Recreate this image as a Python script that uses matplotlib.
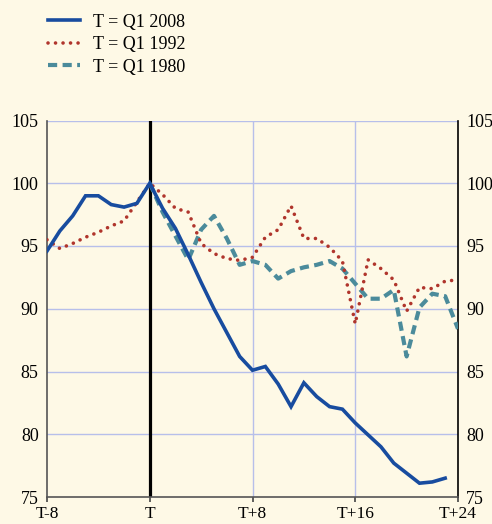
import matplotlib
matplotlib.use("Agg")
import matplotlib.pyplot as plt

# Quarters relative to the cycle peak T
quarters_2008 = list(range(-8, 24))
quarters_1992 = list(range(-8, 25))
quarters_1980 = list(range(0, 25))

# Index values (T = 100)
q1_2008 = [94.6, 96.2, 97.4, 99.0, 99.0, 98.3, 98.1, 98.4, 100.0,
           98.0, 96.4, 94.3, 92.1, 90.0, 88.1, 86.2, 85.1, 85.4, 84.0,
           82.2, 84.1, 83.0, 82.2, 82.0, 80.9, 79.95, 79.0, 77.7, 76.9,
           76.1, 76.2, 76.5]
q1_1992 = [95.5, 94.8, 95.2, 95.7, 96.1, 96.6, 97.0, 98.5, 100.0,
           99.1, 98.0, 97.7, 95.2, 94.4, 94.0, 93.85, 94.1, 95.7, 96.3,
           98.2, 95.6, 95.6, 94.9, 93.8, 88.8, 93.9, 93.2, 92.3, 89.8,
           91.7, 91.6, 92.2, 92.3]
q1_1980 = [100.0, 97.7, 95.8, 93.9, 96.3, 97.4, 95.6, 93.5, 93.8, 93.5,
           92.4, 93.0, 93.3, 93.5, 93.8, 93.2, 92.0, 90.8, 90.8, 91.5,
           86.2, 90.1, 91.2, 91.0, 88.4]

x_ticks = [-8, 0, 8, 16, 24]
x_tick_labels = ["T-8", "T", "T+8", "T+16", "T+24"]
y_ticks = [75, 80, 85, 90, 95, 100, 105]

bg = "#fef9e6"
grid_col = "#b7bfea"

plt.rcParams['font.family'] = ['Liberation Serif', 'DejaVu Serif']
plt.rcParams['font.size'] = 13

fig = plt.figure(figsize=(4.92, 5.24), dpi=100, facecolor=bg)
ax = fig.add_axes([47 / 492, 1 - 497 / 524, 411 / 492, 376.5 / 524], facecolor=bg)

# grid lines
for y in y_ticks[1:]:
    ax.axhline(y, color=grid_col, lw=1.0, zorder=1)
for x in [8, 16]:
    ax.axvline(x, color=grid_col, lw=1.0, zorder=1)

# peak marker
ax.axvline(0, color="black", lw=2.3, zorder=2)

l1, = ax.plot(quarters_2008, q1_2008, color="#184c9f", lw=2.6,
              solid_joinstyle="miter", zorder=5, label="T = Q1 2008")
l2, = ax.plot(quarters_1992, q1_1992, color="#b0352c", lw=2.6,
              linestyle=(0, (0.01, 2.07)), dash_capstyle="round", zorder=4,
              label="T = Q1 1992")
l3, = ax.plot(quarters_1980, q1_1980, color="#4b8b9b", lw=3.0,
              linestyle=(0, (2.2, 1.3)), zorder=3, label="T = Q1 1980")

ax.set_xlim(-8, 24)
ax.set_ylim(75, 105)
ax.set_xticks(x_ticks)
ax.set_xticklabels(x_tick_labels, fontsize=12.5)
ax.set_yticks(y_ticks)
ax.tick_params(axis="y", length=0, labelleft=True, labelright=True, pad=6)
ax.tick_params(axis="x", length=3.3, width=1.2, color="#444444", pad=3.0)

ax.spines["top"].set_visible(False)
ax.spines["left"].set_color("#555555")
ax.spines["bottom"].set_color("#555555")
ax.spines["right"].set_color("black")
for s in ["left", "bottom", "right"]:
    ax.spines[s].set_linewidth(1.2)

fig.legend(handles=[l1, l2, l3], loc="upper left", bbox_to_anchor=(0.072, 0.998),
           frameon=False, handlelength=1.75, handletextpad=0.75,
           labelspacing=0.3, borderpad=0.2)

fig.savefig("out.png", dpi=100, facecolor=bg)
